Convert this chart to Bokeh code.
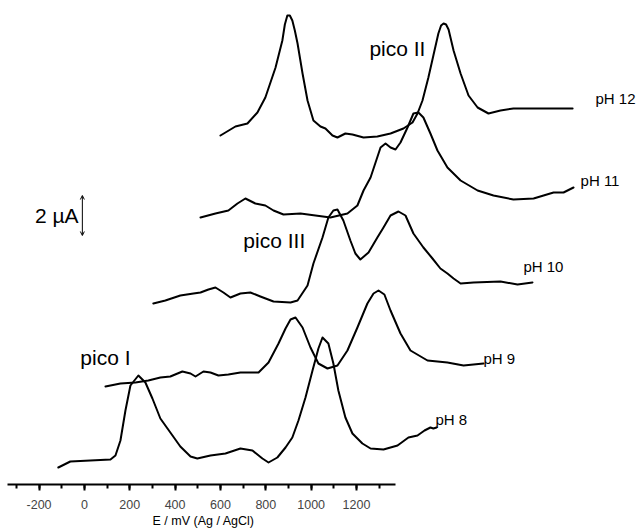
from bokeh.plotting import figure
from bokeh.models import Label, Arrow, OpenHead, SingleIntervalTicker, Range1d, Title
from bokeh.embed import file_html
from bokeh.resources import INLINE

# Differential pulse voltammograms stacked by pH (E in mV vs Ag/AgCl, I in µA incl. offset)
ph8_E = [-115, -62, 26, 115, 137, 159, 181, 203, 238, 269, 300, 335, 379, 423, 468, 498,
         556, 622, 688, 741, 785, 812, 851, 887, 917, 944, 975, 1006, 1032, 1050, 1076,
         1098, 1120, 1151, 1182, 1226, 1262, 1319, 1381, 1429, 1469, 1500, 1526, 1539, 1553]
ph8_I = [0.85, 1.15, 1.2, 1.25, 1.45, 2.2, 3.7, 4.95, 5.45, 5.1, 4.3, 3.3, 2.6, 1.9, 1.4, 1.3,
         1.45, 1.55, 1.8, 1.7, 1.3, 1.1, 1.35, 1.85, 2.35, 3.2, 4.35, 5.7, 6.8, 7.35, 7.05,
         6.05, 4.7, 3.35, 2.55, 2.05, 1.8, 1.75, 1.95, 2.35, 2.45, 2.7, 2.85, 2.8, 2.85]

ph9_E = [93, 159, 225, 282, 335, 379, 432, 468, 490, 525, 556, 591, 635, 688, 768, 812,
         856, 887, 909, 931, 962, 997, 1032, 1072, 1116, 1160, 1204, 1248, 1275, 1297,
         1323, 1350, 1394, 1438, 1513, 1601, 1672, 1760]
ph9_I = [4.9, 5.05, 5.1, 5.2, 5.35, 5.4, 5.65, 5.55, 5.4, 5.65, 5.6, 5.45, 5.5, 5.6, 5.6, 6.1,
         7.05, 7.8, 8.25, 8.35, 7.85, 6.85, 6.05, 5.8, 5.95, 6.7, 7.85, 9.05, 9.55, 9.7,
         9.5, 8.7, 7.55, 6.7, 6.2, 6.1, 5.95, 6.05]

ph10_E = [304, 357, 423, 481, 512, 547, 578, 613, 644, 688, 732, 776, 834, 909, 940, 984,
          1010, 1050, 1076, 1098, 1116, 1142, 1173, 1195, 1217, 1253, 1292, 1319, 1350,
          1385, 1416, 1451, 1495, 1535, 1570, 1601, 1628, 1659, 1716, 1835, 1910, 1976]
ph10_I = [9.05, 9.2, 9.45, 9.55, 9.6, 9.75, 9.85, 9.6, 9.35, 9.55, 9.6, 9.4, 9.15, 9.1, 9.2, 9.95,
          11.05, 12.35, 13.35, 13.7, 13.75, 13.2, 12.2, 11.55, 11.25, 11.6, 12.35, 12.85, 13.45,
          13.65, 13.45, 12.55, 11.85, 11.3, 10.8, 10.55, 10.3, 10.05, 10.1, 10.15, 10.0, 10.1]

ph11_E = [512, 578, 635, 675, 710, 754, 798, 834, 878, 953, 1019, 1085, 1160, 1204, 1231,
          1262, 1306, 1328, 1350, 1372, 1394, 1425, 1451, 1473, 1495, 1526, 1557, 1601,
          1659, 1734, 1804, 1892, 1981, 2025, 2069, 2113, 2157]
ph11_I = [13.35, 13.55, 13.7, 14.05, 14.3, 14.05, 13.95, 13.7, 13.5, 13.55, 13.45, 13.35, 13.55,
          13.95, 14.7, 15.35, 16.85, 17.05, 16.85, 16.75, 17.1, 17.85, 18.55, 18.6, 18.35,
          17.55, 16.7, 15.85, 15.2, 14.7, 14.45, 14.25, 14.3, 14.45, 14.6, 14.6, 14.85]

ph12_E = [600, 666, 719, 763, 798, 843, 873, 884, 895, 906, 917, 928, 940, 962, 984, 1010,
          1041, 1063, 1094, 1116, 1151, 1182, 1231, 1292, 1350, 1407, 1447, 1469, 1491, 1517,
          1539, 1561, 1573, 1584, 1595, 1606, 1628, 1659, 1694, 1734, 1782, 1835, 1892, 1998,
          2153]
ph12_I = [17.45, 17.9, 18.05, 18.6, 19.35, 20.85, 22.2, 23.0, 23.45, 23.45, 23.2, 22.7, 22.05,
          20.55, 19.2, 18.2, 17.9, 17.8, 17.45, 17.35, 17.55, 17.5, 17.35, 17.4, 17.55, 17.8,
          18.1, 18.55, 19.2, 20.35, 21.45, 22.55, 22.95, 23.05, 23.0, 22.75, 21.7, 20.55, 19.45,
          18.85, 18.55, 18.7, 18.8, 18.8, 18.8]

ph_labels = ["pH 8", "pH 9", "pH 10", "pH 11", "pH 12"]
tick_labels = ["-200", "0", "200", "400", "600", "800", "1000", "1200"]

FONT = "Liberation Sans"
AXIS_BOUNDS = (-340, 1370)

p = figure(frame_width=639, frame_height=484, min_border=0, min_border_bottom=47,
           x_range=Range1d(-370, 2448), y_range=Range1d(0, 24.2),
           output_backend="svg", toolbar_location=None, y_axis_location=None)
p.outline_line_color = None
p.grid.visible = False
p.background_fill_color = "white"
p.border_fill_color = "white"

ax = p.xaxis[0]
ax.ticker = SingleIntervalTicker(interval=200, num_minor_ticks=2)
ax.bounds = AXIS_BOUNDS
ax.major_label_overrides = {int(t): t for t in tick_labels}
ax.major_label_text_font = FONT
ax.major_label_text_font_size = "12.5px"
ax.major_label_standoff = 9
ax.axis_line_width = 2
ax.major_tick_line_width = 2
ax.minor_tick_line_width = 2
ax.major_tick_in = 0
ax.major_tick_out = 6
ax.minor_tick_in = 0
ax.minor_tick_out = 4

# axis title placed under the bounded axis line (not the full frame)
p.add_layout(Title(text="E / mV (Ag / AgCl)", align="left", offset=152, standoff=0,
                   text_font=FONT, text_font_size="12.5px", text_font_style="normal",
                   text_color="black"), "below")

curves = [(ph8_E, ph8_I), (ph9_E, ph9_I), (ph10_E, ph10_I), (ph11_E, ph11_I), (ph12_E, ph12_I)]
for E, I in curves:
    p.line(E, I, line_color="black", line_width=2, line_join="round", line_cap="round")

# pH labels next to each trace end
label_pos = [(1548, 3.25), (1760, 6.3), (1936, 10.9), (2188, 15.2), (2254, 19.3)]
for txt, (xe, yi) in zip(ph_labels, label_pos):
    p.add_layout(Label(x=xe, y=yi, text=txt, text_font=FONT, text_font_size="15px",
                       text_baseline="middle", text_color="black"))

# peak annotations
for txt, xe, yi, align in [("pico I", -18, 6.35, "left"), ("pico II", 1504, 21.8, "right"),
                           ("pico III", 701, 12.2, "left")]:
    p.add_layout(Label(x=xe, y=yi, text=txt, text_font=FONT, text_font_size="21px",
                       text_baseline="middle", text_align=align, text_color="black"))

# current scale bar: 2 µA
scale_uA = 2
bar_x, bar_y0 = -9, 12.45
p.add_layout(Arrow(x_start=bar_x, y_start=bar_y0, x_end=bar_x, y_end=bar_y0 + scale_uA,
                   line_width=1, line_color="black",
                   start=OpenHead(size=4, line_width=1), end=OpenHead(size=4, line_width=1)))
p.add_layout(Label(x=bar_x - 17, y=bar_y0 + scale_uA / 2, text="%d µA" % scale_uA,
                   text_font=FONT, text_font_size="21px", text_align="right",
                   text_baseline="middle", text_color="black"))

open("out.html", "w").write(file_html(p, INLINE))
